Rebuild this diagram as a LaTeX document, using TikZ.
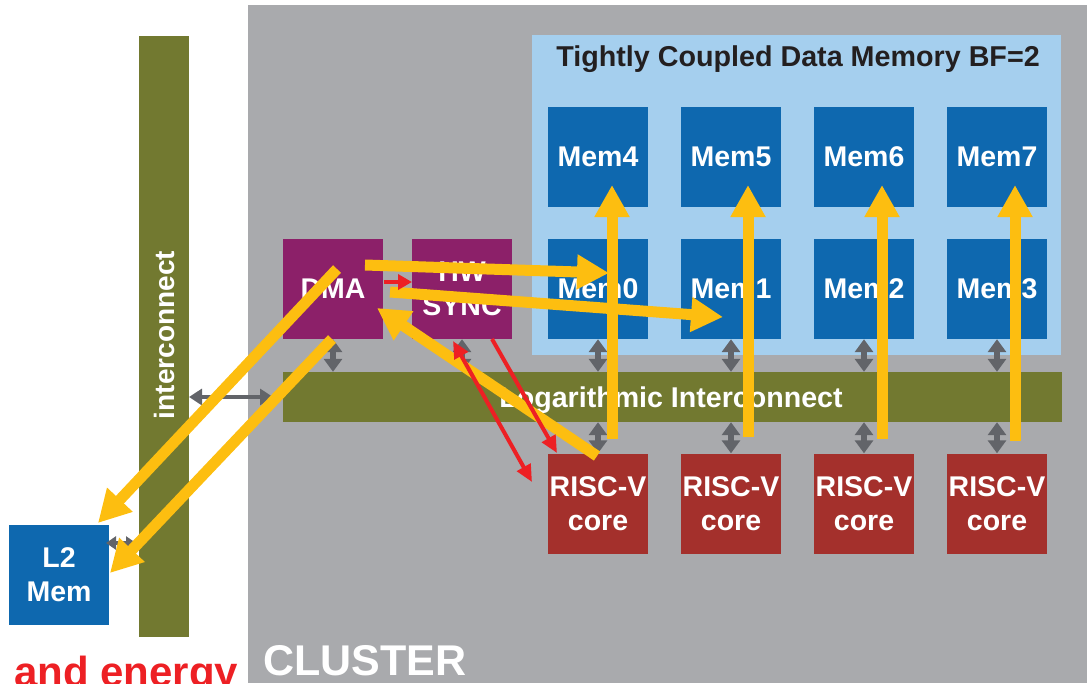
\documentclass[tikz,border=0pt]{standalone}
\usepackage{fontspec}
\setmainfont{Liberation Sans}
\usetikzlibrary{arrows.meta,calc}
\definecolor{clgray}{HTML}{A9AAAD}
\definecolor{olivebar}{HTML}{727930}
\definecolor{tcdmblue}{HTML}{A5CFEE}
\definecolor{memblue}{HTML}{0E68AF}
\definecolor{dmapurple}{HTML}{8C2069}
\definecolor{corered}{HTML}{A4302C}
\definecolor{yel}{HTML}{FDBE10}
\definecolor{redarrow}{HTML}{ED2024}
\definecolor{agray}{HTML}{626469}
\definecolor{titletext}{HTML}{231F20}
\begin{document}
\begin{tikzpicture}[x=1pt,y=-1pt,
  blockbox/.style={inner sep=0pt, minimum width=100pt, minimum height=100pt,
    text=white, font=\bfseries\fontsize{28.5}{34}\selectfont, align=center},
  memnode/.style={blockbox, fill=memblue},
  corenode/.style={blockbox, fill=corered},
  purplenode/.style={blockbox, fill=dmapurple},
  garrow/.style={draw=agray, line width=5.5pt,
    {Triangle[length=13pt,width=18pt]}-{Triangle[length=13pt,width=18pt]}},
  yarrow/.style={draw=yel, line width=11pt, -{Triangle[length=32pt,width=33pt]}},
  rarrow/.style={draw=redarrow, line width=4pt, -{Triangle[length=17pt,width=15pt]}},
  rdarrow/.style={draw=redarrow, line width=4pt,
    {Triangle[length=17pt,width=15pt]}-{Triangle[length=17pt,width=15pt]}}
]
\useasboundingbox (0,0) rectangle (1087,683);
% cluster background
\fill[clgray] (248,5) rectangle (1087,683);
% vertical interconnect
\node[fill=olivebar, inner sep=0pt, minimum width=50pt, minimum height=601pt] (ic) at (164,336.5) {};
\node[rotate=90, text=white, font=\bfseries\fontsize{28}{30}\selectfont] (ictext) at (164,335) {interconnect};
% TCDM
\node[fill=tcdmblue, inner sep=0pt, minimum width=529pt, minimum height=320pt] (tcdm) at (796.5,195) {};
\node[anchor=base, text=titletext, font=\bfseries\fontsize{28.7}{30}\selectfont] (title) at (798,66) {Tightly Coupled Data Memory BF=2};
% memories
\node[memnode] (m4) at (598,157) {Mem4};
\node[memnode] (m5) at (731,157) {Mem5};
\node[memnode] (m6) at (864,157) {Mem6};
\node[memnode] (m7) at (997,157) {Mem7};
\node[memnode] (m0) at (598,289) {Mem0};
\node[memnode] (m1) at (731,289) {Mem1};
\node[memnode] (m2) at (864,289) {Mem2};
\node[memnode] (m3) at (997,289) {Mem3};
% logarithmic interconnect
\node[fill=olivebar, inner sep=0pt, minimum width=779pt, minimum height=50pt] (log) at (672.5,397) {};
\node[anchor=base, text=white, font=\bfseries\fontsize{28.6}{30}\selectfont] (logtext) at (671,407) {Logarithmic Interconnect};
% DMA & HW sync
\node[purplenode] (dma) at (333,289) {DMA};
\node[purplenode] (hws) at (462,289) {HW\\SYNC};
% cores
\node[corenode] (c0) at (598,503.5) {RISC-V\\core};
\node[corenode] (c1) at (731,503.5) {RISC-V\\core};
\node[corenode] (c2) at (864,503.5) {RISC-V\\core};
\node[corenode] (c3) at (997,503.5) {RISC-V\\core};
% L2
\node[memnode] (l2) at (59,575) {L2\\Mem};
% labels
\node[anchor=base west, inner sep=0pt, text=white, font=\bfseries\fontsize{43}{45}\selectfont] (cluster) at (263,675) {CLUSTER};
\node[anchor=base west, inner sep=0pt, text=redarrow, font=\bfseries\fontsize{42}{45}\selectfont] (energy) at (14,686) {and energy};
% gray arrows
\foreach \m in {m0,m1,m2,m3}{\draw[garrow] (\m.south) -- (\m.south |- log.north);}
\foreach \c in {c0,c1,c2,c3}{\draw[garrow] (\c.north |- log.south) -- (\c.north);}
\draw[garrow] (dma.south) -- (dma.south |- log.north);
\draw[garrow] (hws.south) -- (hws.south |- log.north);
\coordinate (icr) at (189,397);
\coordinate (clin) at (273,397);
\draw[garrow, line width=4.5pt, {Triangle[length=13pt,width=16pt]}-{Triangle[length=13pt,width=16pt]}] (icr) -- (clin);
\coordinate (l2r) at (106,543);
\coordinate (icl) at (136,543);
\draw[garrow, line width=4pt, {Triangle[length=10pt,width=13pt]}-{Triangle[length=10pt,width=13pt]}] (l2r) -- (icl);
% yellow arrows
\coordinate (ya1) at (365,265); \coordinate (yb1) at (609,273);
\coordinate (ya2) at (390,292); \coordinate (yb2) at (723,317);
\coordinate (ya3) at (597,456); \coordinate (yb3) at (377,308);
\coordinate (ya4) at (337,269); \coordinate (yb4) at (98,523);
\coordinate (ya5) at (332,339); \coordinate (yb5) at (110,573);
\coordinate (yv0a) at (612,439); \coordinate (yv0b) at (612,185);
\coordinate (yv1a) at (748,437); \coordinate (yv1b) at (748,185);
\coordinate (yv2a) at (882,439); \coordinate (yv2b) at (882,185);
\coordinate (yv3a) at (1015,441); \coordinate (yv3b) at (1015,185);
\draw[yarrow] (yv0a) -- (yv0b);
\draw[yarrow] (yv1a) -- (yv1b);
\draw[yarrow] (yv2a) -- (yv2b);
\draw[yarrow] (yv3a) -- (yv3b);
\draw[yarrow] (ya1) -- (yb1);
\draw[yarrow] (ya2) -- (yb2);
\draw[yarrow] (ya3) -- (yb3);
\draw[yarrow] (ya4) -- (yb4);
\draw[yarrow] (ya5) -- (yb5);
% red arrows
\coordinate (r1a) at (384,282); \coordinate (r1b) at (412,282);
\coordinate (r2a) at (492,339); \coordinate (r2b) at (557,453);
\coordinate (r3a) at (453,341); \coordinate (r3b) at (532,482);
\draw[rarrow, -{Triangle[length=14pt,width=15pt]}] (r1a) -- (r1b);
\draw[rarrow] (r2a) -- (r2b);
\draw[rdarrow] (r3a) -- (r3b);
\end{tikzpicture}
\end{document}
